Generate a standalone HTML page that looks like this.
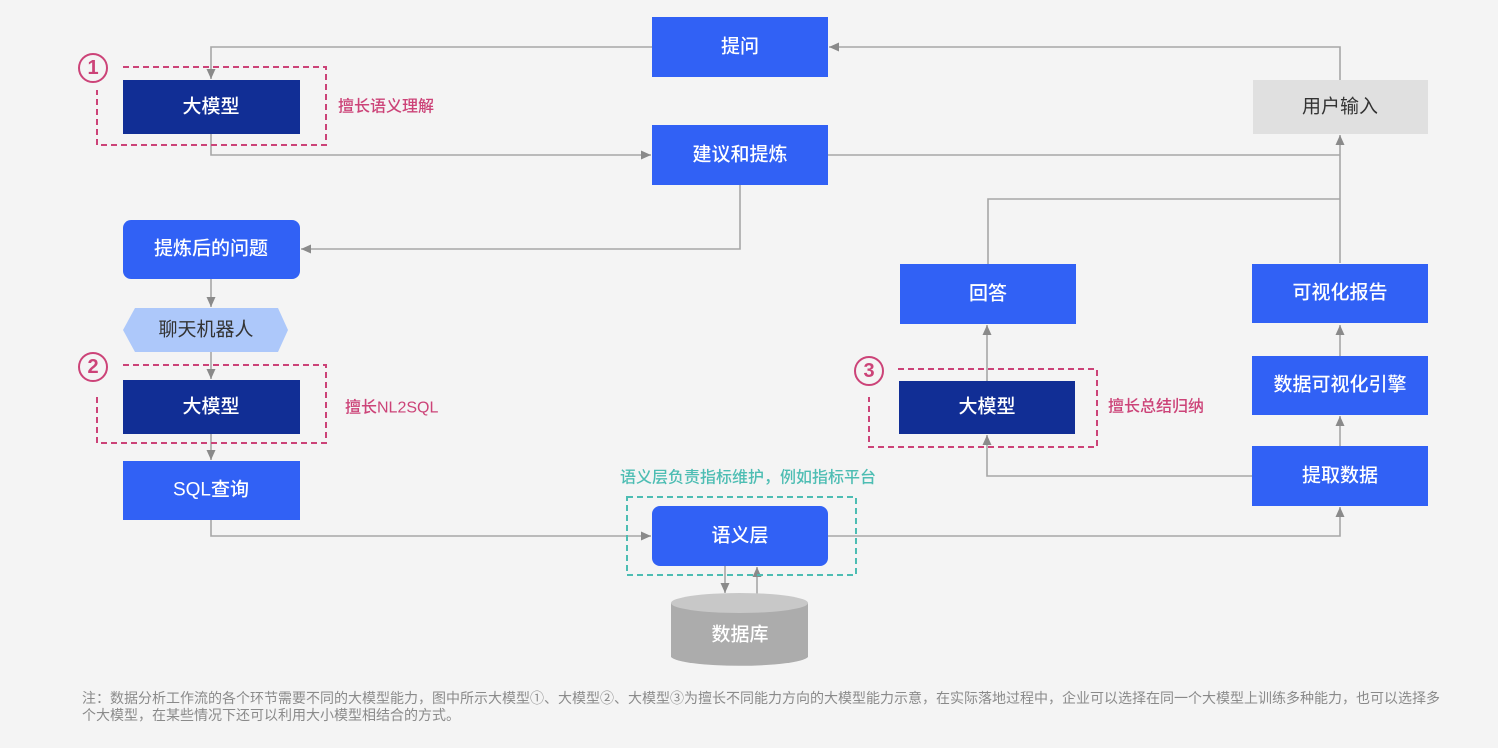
<!DOCTYPE html>
<html>
<head>
<meta charset="utf-8">
<style>
html,body{margin:0;padding:0;background:#f4f4f4;}
svg{display:block;}
text{font-family:"Liberation Sans","Noto Sans CJK SC",sans-serif;}
</style>
</head>
<body>
<svg width="1498" height="748" viewBox="0 0 1498 748" xmlns="http://www.w3.org/2000/svg">
<defs>
<marker id="ar" markerWidth="11" markerHeight="11" refX="10" refY="5" orient="auto" markerUnits="userSpaceOnUse">
<path d="M0,0.5 L10,5 L0,9.5 Z" fill="#8a8a8a"/>
</marker>
</defs>
<rect x="0" y="0" width="1498" height="748" fill="#f4f4f4"/>

<!-- connectors -->
<g fill="none" stroke="#a6a6a6" stroke-width="1.6">
<path d="M1340,80 V47 H829" marker-end="url(#ar)"/>
<path d="M652,47 H211 V79" marker-end="url(#ar)"/>
<path d="M211,134 V155 H651" marker-end="url(#ar)"/>
<path d="M740,185 V249 H301" marker-end="url(#ar)"/>
<path d="M828,155 H1340"/>
<path d="M988,264 V199 H1340"/>
<path d="M1340,263 V135" marker-end="url(#ar)"/>
<path d="M211,279 V307" marker-end="url(#ar)"/>
<path d="M211,352 V379" marker-end="url(#ar)"/>
<path d="M211,434 V460" marker-end="url(#ar)"/>
<path d="M211,520 V536 H651" marker-end="url(#ar)"/>
<path d="M828,536 H1340 V507" marker-end="url(#ar)"/>
<path d="M725,566 V593" marker-end="url(#ar)"/>
<path d="M757,596 V567" marker-end="url(#ar)"/>
<path d="M1252,476 H987 V435" marker-end="url(#ar)"/>
<path d="M987,381 V325" marker-end="url(#ar)"/>
<path d="M1340,446 V416" marker-end="url(#ar)"/>
<path d="M1340,356 V325" marker-end="url(#ar)"/>
</g>

<!-- dashed pink boxes -->
<g fill="none" stroke="#cc4378" stroke-width="2" stroke-dasharray="6,4">
<path d="M123,67 H326 V145 H97 V90"/>
<path d="M123,365 H326 V443 H97 V393"/>
<path d="M898,369 H1097 V447 H869 V397"/>
</g>
<!-- teal dashed box -->
<rect x="627" y="497" width="229" height="78" fill="none" stroke="#4dbdb3" stroke-width="2" stroke-dasharray="6,4"/>

<!-- circles -->
<g fill="none" stroke="#cc4378" stroke-width="2">
<circle cx="93" cy="68" r="14"/>
<circle cx="93" cy="367" r="14"/>
<circle cx="869" cy="371" r="14"/>
</g>
<g fill="#cc4378" font-size="20" font-weight="bold" text-anchor="middle" dominant-baseline="central">
<text x="93" y="68">1</text>
<text x="93" y="367">2</text>
<text x="869" y="371">3</text>
</g>

<!-- boxes -->
<rect x="652" y="17" width="176" height="60" fill="#3161f5"/>
<rect x="652" y="125" width="176" height="60" fill="#3161f5"/>
<rect x="1253" y="80" width="175" height="54" fill="#e0e0e0"/>
<rect x="123" y="80" width="177" height="54" fill="#112e95"/>
<rect x="123" y="220" width="177" height="59" rx="8" fill="#3161f5"/>
<polygon points="123,330 135,308 278,308 288,330 278,352 135,352" fill="#adc8fa"/>
<rect x="123" y="380" width="177" height="54" fill="#112e95"/>
<rect x="123" y="461" width="177" height="59" fill="#3161f5"/>
<rect x="652" y="506" width="176" height="60" rx="8" fill="#3161f5"/>
<rect x="900" y="264" width="176" height="60" fill="#3161f5"/>
<rect x="899" y="381" width="176" height="53" fill="#112e95"/>
<rect x="1252" y="264" width="176" height="59" fill="#3161f5"/>
<rect x="1252" y="356" width="176" height="59" fill="#3161f5"/>
<rect x="1252" y="446" width="176" height="60" fill="#3161f5"/>

<!-- cylinder -->
<path d="M671,603 V657 A69,10 0 0 0 808,657 V603 Z" fill="#acacac"/>
<ellipse cx="739.5" cy="603" rx="68.5" ry="10" fill="#c8c8c8"/>

<!-- box labels -->
<g font-size="19" font-weight="500" fill="#ffffff" text-anchor="middle" dominant-baseline="central">
<text x="740" y="47">提问</text>
<text x="740" y="155">建议和提炼</text>
<text x="211" y="107">大模型</text>
<text x="211" y="249">提炼后的问题</text>
<text x="211" y="407">大模型</text>
<text x="211" y="490">SQL查询</text>
<text x="740" y="536">语义层</text>
<text x="988" y="294">回答</text>
<text x="987" y="407">大模型</text>
<text x="1340" y="293">可视化报告</text>
<text x="1340" y="385">数据可视化引擎</text>
<text x="1340" y="476">提取数据</text>
<text x="740" y="635">数据库</text>
</g>
<g font-size="19" fill="#333333" text-anchor="middle" dominant-baseline="central">
<text x="1340" y="107">用户输入</text>
<text x="206" y="330">聊天机器人</text>
</g>

<!-- side labels -->
<g font-size="16" font-weight="500" fill="#cc4378" dominant-baseline="central">
<text x="338" y="107">擅长语义理解</text>
<text x="345" y="408">擅长NL2SQL</text>
<text x="1108" y="407">擅长总结归纳</text>
</g>
<text x="620" y="478" font-size="16" font-weight="500" fill="#4dbdb3" dominant-baseline="central">语义层负责指标维护，例如指标平台</text>

<!-- footnote -->
<g font-size="14" fill="#8a8a8a" dominant-baseline="central">
<text x="82" y="698" textLength="1358" lengthAdjust="spacing">注：数据分析工作流的各个环节需要不同的大模型能力，图中所示大模型①、大模型②、大模型③为擅长不同能力方向的大模型能力示意，在实际落地过程中，企业可以选择在同一个大模型上训练多种能力，也可以选择多</text>
<text x="82" y="715">个大模型，在某些情况下还可以利用大小模型相结合的方式。</text>
</g>
</svg>
</body>
</html>
